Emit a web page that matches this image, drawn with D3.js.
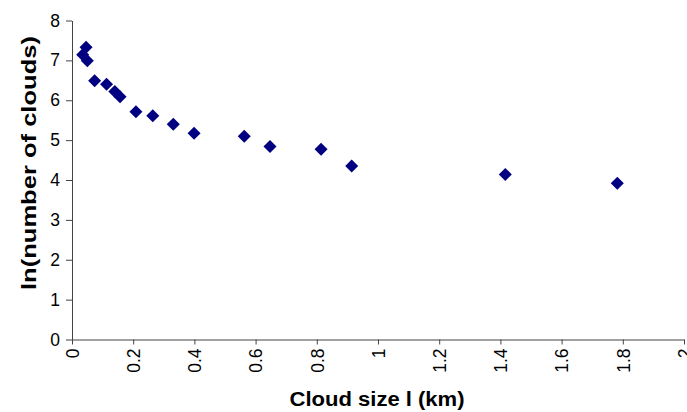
<!DOCTYPE html>
<html><head><meta charset="utf-8">
<script src="https://cdn.jsdelivr.net/npm/d3@7"></script>
<style>body{margin:0;background:#fff}svg{display:block}</style>
</head><body>
<svg id="c" width="687" height="412"></svg>
<script>
const cloudSize = [0.046,0.035,0.05,0.074,0.113,0.14,0.157,0.209,0.264,0.331,0.399,0.563,0.647,0.814,0.914,1.416,1.782];
const lnCount   = [7.33,7.14,6.99,6.49,6.40,6.22,6.09,5.71,5.61,5.40,5.17,5.10,4.84,4.77,4.35,4.14,3.92];
const xTicks = [0,0.2,0.4,0.6,0.8,1,1.2,1.4,1.6,1.8,2];
const yTicks = [0,1,2,3,4,5,6,7,8];

const svg = d3.select("#c");
const m = {l:72, r:684, t:20.5, b:339.5};
const x = d3.scaleLinear().domain([0,2]).range([m.l,m.r]);
const y = d3.scaleLinear().domain([0,8]).range([m.b,m.t]);
const font = "Liberation Sans, Arial, sans-serif";
const axCol = "#444";

const gx = svg.append("g").attr("transform",`translate(0,${m.b})`)
  .call(d3.axisBottom(x).tickValues(xTicks).tickFormat(d3.format("~g")).tickSize(5).tickSizeOuter(0));
gx.selectAll("text").attr("transform","rotate(-90)").attr("text-anchor","end")
  .attr("x",-9).attr("y",0).attr("dy","0.36em");
const gy = svg.append("g").attr("transform",`translate(${m.l},0)`)
  .call(d3.axisLeft(y).tickValues(yTicks).tickSize(6).tickSizeOuter(0));
gy.selectAll("text").attr("x",-12);
svg.selectAll(".tick text").attr("font-family",font).attr("font-size",17.5).attr("fill","#000");
svg.selectAll(".domain, .tick line").attr("stroke",axCol);

const sym = d3.symbol().type(d3.symbolDiamond2).size(108);
svg.append("g").selectAll("path").data(cloudSize).join("path")
  .attr("d", sym)
  .attr("transform",(d,i)=>`translate(${x(d)},${y(lnCount[i])})`)
  .attr("fill","#000080");

svg.append("text").attr("x",377).attr("y",406).attr("text-anchor","middle")
  .attr("font-family",font).attr("font-weight","bold").attr("font-size",20)
  .attr("textLength",175).attr("lengthAdjust","spacingAndGlyphs").text("Cloud size l (km)");
svg.append("text").attr("transform","translate(36,163) rotate(-90)").attr("text-anchor","middle")
  .attr("font-family",font).attr("font-weight","bold").attr("font-size",20)
  .attr("textLength",254).attr("lengthAdjust","spacingAndGlyphs").text("ln(number of clouds)");
</script>
</body></html>
